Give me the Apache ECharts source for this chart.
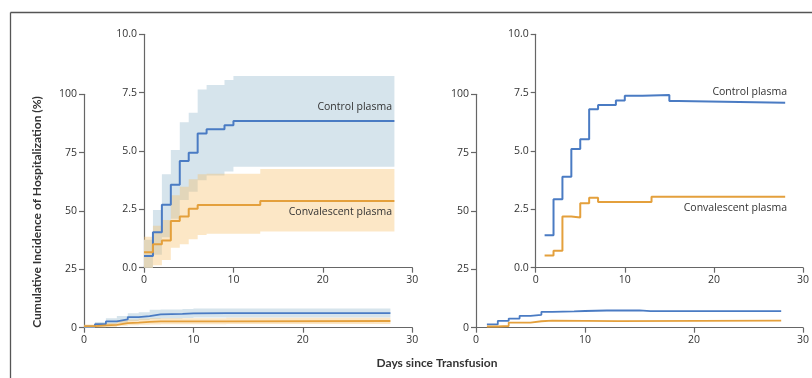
<!DOCTYPE html>
<html>
<head>
<meta charset="utf-8">
<script src="https://cdn.jsdelivr.net/npm/echarts@6/dist/echarts.min.js"></script>
<style>
  html, body { margin: 0; padding: 0; background: #fff; }
  #chart { width: 812px; height: 378px; }
</style>
</head>
<body>
<div id="chart"></div>
<script>
(() => {
  // left panel: days where the curves step, cumulative incidence (%)
  const daysL = [0, 1, 2, 3, 4, 5, 6, 7, 9, 10, 13, 28];
  const ctrlL = [0.5, 1.52, 2.7, 3.55, 4.57, 4.93, 5.75, 5.93, 6.1, 6.28, 6.28, 6.28];
  const ctrlLo = [0.0, 0.55, 1.3, 2.1, 2.9, 3.25, 3.75, 3.95, 4.12, 4.33, 4.33, 4.33];
  const ctrlHi = [1.2, 2.47, 4.0, 5.04, 6.23, 6.64, 7.64, 7.83, 8.04, 8.21, 8.21, 8.21];
  const convL = [0.66, 1.0, 1.17, 2.0, 2.19, 2.53, 2.69, 2.69, 2.69, 2.69, 2.86, 2.86];
  const convLo = [0.0, 0.1, 0.33, 0.86, 1.0, 1.22, 1.4, 1.45, 1.45, 1.45, 1.55, 1.55];
  const convHi = [1.33, 1.8, 2.04, 3.1, 3.47, 3.79, 4.0, 4.02, 4.02, 4.02, 4.23, 4.23];

  // right panel
  const daysRctrl = [1, 2, 3, 4, 5, 6, 7, 9, 10, 12, 15, 16, 28];
  const ctrlR = [1.39, 2.93, 3.9, 5.09, 5.5, 6.79, 6.97, 7.16, 7.37, 7.4, 7.14, 7.07, 7.04];
  const daysRconv = [1, 2, 3, 4, 5, 6, 7, 13, 28];
  const convR = [0.52, 0.73, 2.19, 2.15, 2.76, 3.0, 2.81, 3.04, 3.04];

  const xTicks = [0, 10, 20, 30];
  const mainTicks = [0, 25, 50, 75, 100];
  const insetTicks = [0, 2.5, 5, 7.5, 10];

  const BLUE = '#4a7bc3';
  const ORANGE = '#e4a03c';
  const BLUE_BAND = '#d6e4ec';
  const ORANGE_BAND = 'rgba(248,192,105,0.38)';
  const AXIS = '#666';
  const TXT = '#333';

  let myChart = echarts.init(document.getElementById('chart'));

  const pairs = (days, vals) => days.map((d, i) => [d, vals[i]]);

  const grids = [
    { left: 84, top: 94.3, width: 328.3, height: 233.4 },
    { left: 144, top: 34.3, width: 268.3, height: 233.4 },
    { left: 476, top: 94.3, width: 328, height: 233.4 },
    { left: 535.7, top: 34.3, width: 268.3, height: 233.4 }
  ];

  const xAxes = grids.map((g, i) => ({
    type: 'value',
    gridIndex: i,
    min: xTicks[0],
    max: xTicks[xTicks.length - 1],
    interval: 10,
    axisLine: { show: true, lineStyle: { color: AXIS, width: 1.2 } },
    axisTick: { show: true, length: 5, lineStyle: { color: AXIS, width: 1.2 } },
    axisLabel: { color: TXT, fontSize: 10.5, fontFamily: 'Open Sans', margin: 7 },
    splitLine: { show: false }
  }));

  const yAxes = grids.map((g, i) => {
    const inset = i % 2 === 1;
    const ticks = inset ? insetTicks : mainTicks;
    return {
      type: 'value',
      gridIndex: i,
      min: ticks[0],
      max: ticks[ticks.length - 1],
      interval: ticks[1] - ticks[0],
      axisLine: { show: true, lineStyle: { color: AXIS, width: 1.2 } },
      axisTick: { show: true, length: 5, lineStyle: { color: AXIS, width: 1.2 } },
      axisLabel: {
        color: TXT, fontSize: 10.5, fontFamily: 'Open Sans', margin: 7,
        formatter: v => inset ? v.toFixed(1) : String(v)
      },
      splitLine: { show: false }
    };
  });

  // confidence band as one stepped polygon, drawn through the axes
  function band(days, lo, hi, gi, color) {
    return {
      type: 'custom', xAxisIndex: gi, yAxisIndex: gi, silent: true,
      data: days.map((d, k) => [d, lo[k], hi[k]]),
      renderItem: (params, api) => {
        if (params.dataIndex !== 0) return null;
        const top = [], bottom = [];
        for (let k = 0; k < days.length; k++) {
          const x0 = days[k];
          const x1 = k < days.length - 1 ? days[k + 1] : days[k];
          top.push(api.coord([x0, hi[k]]), api.coord([x1, hi[k]]));
          bottom.push(api.coord([x0, lo[k]]), api.coord([x1, lo[k]]));
        }
        return {
          type: 'polygon',
          shape: { points: top.concat(bottom.reverse()) },
          style: { fill: color }
        };
      }
    };
  }

  function curve(days, vals, gi, color, w) {
    return {
      type: 'line', xAxisIndex: gi, yAxisIndex: gi, step: 'end',
      symbol: 'none', silent: true,
      lineStyle: { color: color, width: w },
      data: pairs(days, vals)
    };
  }

  let series = [];
  [0, 1].forEach(gi => {
    series.push(band(daysL, ctrlLo, ctrlHi, gi, BLUE_BAND));
    series.push(band(daysL, convLo, convHi, gi, ORANGE_BAND));
    series.push(curve(daysL, ctrlL, gi, BLUE, gi === 1 ? 2 : 1.8));
    series.push(curve(daysL, convL, gi, ORANGE, gi === 1 ? 2 : 1.8));
  });
  [2, 3].forEach(gi => {
    series.push(curve(daysRctrl, ctrlR, gi, BLUE, gi === 3 ? 2 : 1.8));
    series.push(curve(daysRconv, convR, gi, ORANGE, gi === 3 ? 2 : 1.8));
  });

  const label = (text, x, y) => ({
    type: 'text', x: x, y: y, z: 100, silent: true,
    style: { text: text, align: 'right', verticalAlign: 'middle', fill: TXT, font: '10.5px "Open Sans"' }
  });

  let option = {
    animation: false,
    backgroundColor: '#fff',
    grid: grids,
    xAxis: xAxes,
    yAxis: yAxes,
    series: series,
    graphic: [
      { type: 'line', z: 100, silent: true, shape: { x1: 10.5, y1: 12.5, x2: 812, y2: 12.5 }, style: { stroke: '#555', lineWidth: 1.3 } },
      { type: 'line', z: 100, silent: true, shape: { x1: 10.5, y1: 12.5, x2: 10.5, y2: 378 }, style: { stroke: '#555', lineWidth: 1.3 } },
      {
        type: 'text', x: 37, y: 212, z: 100, rotation: Math.PI / 2, silent: true,
        style: { text: 'Cumulative Incidence of Hospitalization (%)', align: 'center', verticalAlign: 'middle', fill: TXT, font: 'bold 12px Lato' }
      },
      {
        type: 'text', x: 437, y: 363, z: 100, silent: true,
        style: { text: 'Days since Transfusion', align: 'center', verticalAlign: 'middle', fill: TXT, font: 'bold 12px Lato' }
      },
      label('Control plasma', 392, 107),
      label('Convalescent plasma', 392, 212),
      label('Control plasma', 787, 92.5),
      label('Convalescent plasma', 787, 208)
    ]
  };

  myChart.setOption(option);
})();
</script>
</body>
</html>
